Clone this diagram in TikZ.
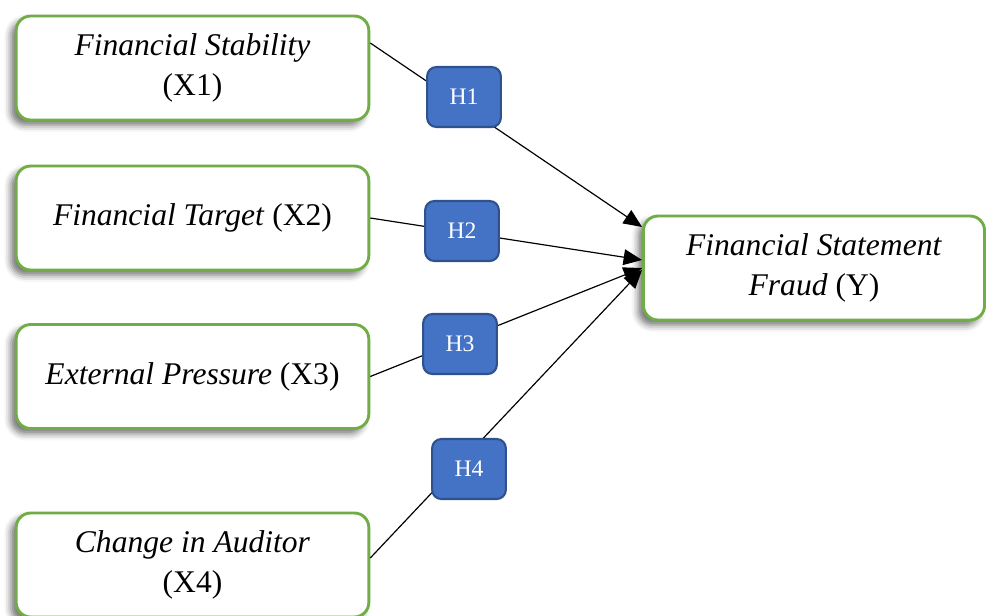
\documentclass[tikz,border=0pt]{standalone}
\usepackage{fontspec}
\setmainfont{Liberation Serif}
\usetikzlibrary{arrows.meta,shadows.blur,calc}
\definecolor{boxgreen}{HTML}{70AD47}
\definecolor{hypblue}{HTML}{4472C4}
\definecolor{hypedge}{HTML}{2F528F}

\begin{document}
\begin{tikzpicture}[x=0.38pt, y=-0.38pt,
    var/.style={rectangle, rounded corners=5.5pt, draw=boxgreen, line width=1.1pt, fill=white,
      minimum width=134pt, minimum height=39.5pt, align=center, font=\fontsize{12}{15.2}\selectfont,
      blur shadow={shadow xshift=-2pt, shadow yshift=-2pt, shadow blur radius=2.5pt, shadow opacity=55}},
    hyp/.style={rectangle, rounded corners=3.5pt, draw=hypedge, line width=0.8pt, fill=hypblue,
      text=white, minimum width=28pt, minimum height=22.8pt, font=\fontsize{9}{10}\selectfont},
    link/.style={-{Triangle[length=7pt,width=6pt]}, line width=0.45pt}]
    \useasboundingbox (0,0) rectangle (988,615);
    \node (x1) at (192.5, 68) [var] {\textit{Financial Stability}\\(X1)};
    \node (x2) at (192.5, 218) [var] {\textit{Financial Target} (X2)};
    \node (x3) at (192.5, 376.5) [var] {\textit{External Pressure} (X3)};
    \node (x4) at (192.5, 565) [var] {\textit{Change in Auditor}\\(X4)};
    \node (fraud) at (814, 268) [var, minimum width=129.6pt] {\textit{Financial Statement}\\\textit{Fraud} (Y)};
    \foreach \i/\a/\b in {1/-25/-41, 2/0/-8, 3/0/0, 4/-7/2} {
      \draw [link] ($(x\i.east)+(0,\a)$) -- ($(fraud.west)+(0,\b)$);
    }
    \foreach \i/\p in {1/{(464,97)}, 2/{(462,231)}, 3/{(460,344)}, 4/{(469,469)}} {
      \node (h\i) at \p [hyp] {H\i};
    }
\end{tikzpicture}
\end{document}
